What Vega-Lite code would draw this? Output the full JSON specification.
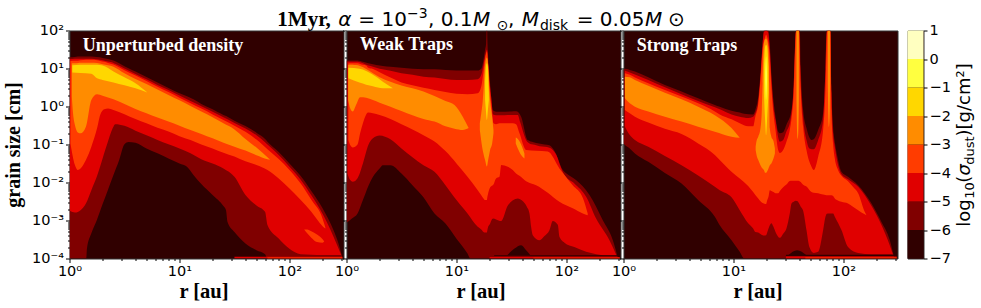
{"$schema":"https://vega.github.io/schema/vega-lite/v6.json","autosize":{"type":"pad"},"padding":{"left":2.5,"top":5.5,"right":0,"bottom":0},"background":"white","spacing":8,
"config":{"view":{"stroke":"#333","strokeWidth":1,"fill":"#300000"},"axis":{"grid":false,"domain":false,"labelFont":"DejaVu Sans","labelFontSize":14.5,"labelColor":"black","tickColor":"black","labelOverlap":false,"labelBound":false,"labelFlush":false,"titleFont":"Liberation Serif","titleFontWeight":"bold","titleColor":"black"}},
"datasets":{
"one":[{"item":"label"}],
"p1":[
{"band":"a6","level":"-6","r":1,"hi":19.8,"lo":0.0001},{"band":"a6","level":"-6","r":1.12,"hi":20.2,"lo":0.0001},{"band":"a6","level":"-6","r":1.26,"hi":20.6,"lo":0.0001},{"band":"a6","level":"-6","r":1.42,"hi":20.6,"lo":0.0001},{"band":"a6","level":"-6","r":1.44,"hi":20.6,"lo":0.00018},{"band":"a6","level":"-6","r":1.58,"hi":20.6,"lo":0.00046},{"band":"a6","level":"-6","r":1.77,"hi":20,"lo":0.00102},{"band":"a6","level":"-6","r":2,"hi":19,"lo":0.0027},{"band":"a6","level":"-6","r":2.23,"hi":17.7,"lo":0.0063},{"band":"a6","level":"-6","r":2.51,"hi":16.2,"lo":0.0158},{"band":"a6","level":"-6","r":2.83,"hi":13.8,"lo":0.039},{"band":"a6","level":"-6","r":3.16,"hi":11.5,"lo":0.102},{"band":"a6","level":"-6","r":3.44,"hi":10.2,"lo":0.117},{"band":"a6","level":"-6","r":3.98,"hi":8.3,"lo":0.112},{"band":"a6","level":"-6","r":5.01,"hi":6,"lo":0.079},{"band":"a6","level":"-6","r":6.31,"hi":4.27,"lo":0.059},{"band":"a6","level":"-6","r":7.94,"hi":3.08,"lo":0.043},{"band":"a6","level":"-6","r":10,"hi":2.23,"lo":0.0316},{"band":"a6","level":"-6","r":11.7,"hi":1.85,"lo":0.026},{"band":"a6","level":"-6","r":13.4,"hi":1.55,"lo":0.0158},{"band":"a6","level":"-6","r":15.8,"hi":1.17,"lo":0.0091},{"band":"a6","level":"-6","r":20,"hi":0.843,"lo":0.0047},{"band":"a6","level":"-6","r":25.1,"hi":0.598,"lo":0.0024},{"band":"a6","level":"-6","r":26.5,"hi":0.56,"lo":0.00186},{"band":"a6","level":"-6","r":27.3,"hi":0.54,"lo":0.00093},{"band":"a6","level":"-6","r":31.6,"hi":0.424,"lo":0.0005},{"band":"a6","level":"-6","r":39.8,"hi":0.307,"lo":0.00025},{"band":"a6","level":"-6","r":50.1,"hi":0.205,"lo":0.000166},{"band":"a6","level":"-6","r":60,"hi":0.14,"lo":0.000129},{"band":"a6","level":"-6","r":63.1,"hi":0.119,"lo":0.0001},{"band":"a6","level":"-6","r":79.4,"hi":0.0646,"lo":0.0001},{"band":"a6","level":"-6","r":100,"hi":0.0316,"lo":0.0001},{"band":"a6","level":"-6","r":126,"hi":0.015,"lo":0.0001},{"band":"a6","level":"-6","r":158,"hi":0.006,"lo":0.0001},{"band":"a6","level":"-6","r":200,"hi":0.0021,"lo":0.0001},{"band":"a6","level":"-6","r":251,"hi":0.00056,"lo":0.0001},{"band":"a6","level":"-6","r":279,"hi":0.00025,"lo":0.0001},{"band":"a6","level":"-6","r":303,"hi":0.000105,"lo":0.0001},
{"band":"a5","level":"-5","r":1.01,"hi":17.5,"lo":0.0018},{"band":"a5","level":"-5","r":1.12,"hi":18,"lo":0.00162},{"band":"a5","level":"-5","r":1.26,"hi":18,"lo":0.00186},{"band":"a5","level":"-5","r":1.41,"hi":18,"lo":0.0028},{"band":"a5","level":"-5","r":1.58,"hi":18,"lo":0.0063},{"band":"a5","level":"-5","r":1.77,"hi":17.5,"lo":0.0141},{"band":"a5","level":"-5","r":2,"hi":16.5,"lo":0.043},{"band":"a5","level":"-5","r":2.23,"hi":15.2,"lo":0.117},{"band":"a5","level":"-5","r":2.51,"hi":14,"lo":0.295},{"band":"a5","level":"-5","r":2.6,"hi":13.3,"lo":0.34},{"band":"a5","level":"-5","r":3.16,"hi":10,"lo":0.31},{"band":"a5","level":"-5","r":3.98,"hi":7.2,"lo":0.231},{"band":"a5","level":"-5","r":5.01,"hi":5.2,"lo":0.174},{"band":"a5","level":"-5","r":6.31,"hi":3.7,"lo":0.132},{"band":"a5","level":"-5","r":7.94,"hi":2.7,"lo":0.101},{"band":"a5","level":"-5","r":10,"hi":1.95,"lo":0.079},{"band":"a5","level":"-5","r":12.6,"hi":1.4,"lo":0.059},{"band":"a5","level":"-5","r":15.8,"hi":1.02,"lo":0.041},{"band":"a5","level":"-5","r":20,"hi":0.73,"lo":0.0316},{"band":"a5","level":"-5","r":25.1,"hi":0.52,"lo":0.0234},{"band":"a5","level":"-5","r":31.6,"hi":0.37,"lo":0.0141},{"band":"a5","level":"-5","r":39.8,"hi":0.265,"lo":0.0047},{"band":"a5","level":"-5","r":50.1,"hi":0.175,"lo":0.0025},{"band":"a5","level":"-5","r":60,"hi":0.115,"lo":0.0017},{"band":"a5","level":"-5","r":63.1,"hi":0.1,"lo":0.00076},{"band":"a5","level":"-5","r":79.4,"hi":0.054,"lo":0.00034},{"band":"a5","level":"-5","r":100,"hi":0.026,"lo":0.00018},{"band":"a5","level":"-5","r":126,"hi":0.012,"lo":0.000129},{"band":"a5","level":"-5","r":158,"hi":0.0046,"lo":0.000125},{"band":"a5","level":"-5","r":200,"hi":0.0015,"lo":0.000123},{"band":"a5","level":"-5","r":251,"hi":0.00038,"lo":0.000123},{"band":"a5","level":"-5","r":295,"hi":0.000125,"lo":0.000123},
{"band":"a4","level":"-4","r":1.02,"hi":15.8,"lo":0.107},{"band":"a4","level":"-4","r":1.12,"hi":16,"lo":0.029},{"band":"a4","level":"-4","r":1.19,"hi":16,"lo":0.0214},{"band":"a4","level":"-4","r":1.26,"hi":16.4,"lo":0.0234},{"band":"a4","level":"-4","r":1.41,"hi":16.9,"lo":0.039},{"band":"a4","level":"-4","r":1.58,"hi":16.9,"lo":0.087},{"band":"a4","level":"-4","r":1.78,"hi":16.5,"lo":0.266},{"band":"a4","level":"-4","r":1.9,"hi":15.8,"lo":0.6},{"band":"a4","level":"-4","r":2.07,"hi":15,"lo":0.85},{"band":"a4","level":"-4","r":2.24,"hi":14,"lo":0.89},{"band":"a4","level":"-4","r":2.51,"hi":12.7,"lo":0.81},{"band":"a4","level":"-4","r":3.16,"hi":9,"lo":0.63},{"band":"a4","level":"-4","r":3.98,"hi":6.5,"lo":0.47},{"band":"a4","level":"-4","r":5.01,"hi":4.7,"lo":0.36},{"band":"a4","level":"-4","r":6.31,"hi":3.3,"lo":0.275},{"band":"a4","level":"-4","r":7.94,"hi":2.4,"lo":0.22},{"band":"a4","level":"-4","r":10,"hi":1.7,"lo":0.166},{"band":"a4","level":"-4","r":12.6,"hi":1.22,"lo":0.132},{"band":"a4","level":"-4","r":15.8,"hi":0.88,"lo":0.1},{"band":"a4","level":"-4","r":20,"hi":0.62,"lo":0.079},{"band":"a4","level":"-4","r":25.1,"hi":0.44,"lo":0.061},{"band":"a4","level":"-4","r":31.6,"hi":0.31,"lo":0.048},{"band":"a4","level":"-4","r":39.8,"hi":0.215,"lo":0.036},{"band":"a4","level":"-4","r":50.1,"hi":0.135,"lo":0.029},{"band":"a4","level":"-4","r":63.1,"hi":0.075,"lo":0.0214},{"band":"a4","level":"-4","r":79.4,"hi":0.042,"lo":0.0129},{"band":"a4","level":"-4","r":100,"hi":0.0214,"lo":0.0069},{"band":"a4","level":"-4","r":126,"hi":0.0095,"lo":0.0035},{"band":"a4","level":"-4","r":158,"hi":0.0035,"lo":0.0017},{"band":"a4","level":"-4","r":200,"hi":0.00112,"lo":0.00071},{"band":"a4","level":"-4","r":212,"hi":0.00065,"lo":0.00062},
{"band":"b4","level":"-4","r":136,"hi":0.00058,"lo":0.00058},{"band":"b4","level":"-4","r":145,"hi":0.00058,"lo":0.00046},{"band":"b4","level":"-4","r":158,"hi":0.00052,"lo":0.00035},{"band":"b4","level":"-4","r":178,"hi":0.00043,"lo":0.00027},{"band":"b4","level":"-4","r":200,"hi":0.00032,"lo":0.00026},{"band":"b4","level":"-4","r":207,"hi":0.00028,"lo":0.00028},
{"band":"a3","level":"-3","r":1.05,"hi":13.5,"lo":1.82},{"band":"a3","level":"-3","r":1.07,"hi":13.8,"lo":0.81},{"band":"a3","level":"-3","r":1.12,"hi":13.8,"lo":0.326},{"band":"a3","level":"-3","r":1.2,"hi":14,"lo":0.204},{"band":"a3","level":"-3","r":1.26,"hi":14.2,"lo":0.197},{"band":"a3","level":"-3","r":1.41,"hi":14.2,"lo":0.295},{"band":"a3","level":"-3","r":1.58,"hi":14.2,"lo":1.49},{"band":"a3","level":"-3","r":1.78,"hi":14,"lo":2.09},{"band":"a3","level":"-3","r":2,"hi":13,"lo":1.93},{"band":"a3","level":"-3","r":2.51,"hi":11.2,"lo":1.55},{"band":"a3","level":"-3","r":3.16,"hi":7.5,"lo":1.17},{"band":"a3","level":"-3","r":3.98,"hi":5.3,"lo":0.86},{"band":"a3","level":"-3","r":5.01,"hi":3.9,"lo":0.66},{"band":"a3","level":"-3","r":6.31,"hi":2.8,"lo":0.51},{"band":"a3","level":"-3","r":7.94,"hi":2,"lo":0.4},{"band":"a3","level":"-3","r":10,"hi":1.45,"lo":0.31},{"band":"a3","level":"-3","r":12.6,"hi":1.03,"lo":0.24},{"band":"a3","level":"-3","r":15.8,"hi":0.74,"lo":0.19},{"band":"a3","level":"-3","r":20,"hi":0.52,"lo":0.145},{"band":"a3","level":"-3","r":25.1,"hi":0.36,"lo":0.112},{"band":"a3","level":"-3","r":31.6,"hi":0.25,"lo":0.087},{"band":"a3","level":"-3","r":39.8,"hi":0.14,"lo":0.069},{"band":"a3","level":"-3","r":50.1,"hi":0.083,"lo":0.052},{"band":"a3","level":"-3","r":63.1,"hi":0.046,"lo":0.041},{"band":"a3","level":"-3","r":66.7,"hi":0.04,"lo":0.04},
{"band":"a2","level":"-2","r":1.06,"hi":12.2,"lo":7.8},{"band":"a2","level":"-2","r":1.26,"hi":12.6,"lo":7.6},{"band":"a2","level":"-2","r":1.58,"hi":12.6,"lo":7.3},{"band":"a2","level":"-2","r":1.78,"hi":12.6,"lo":5.5},{"band":"a2","level":"-2","r":2,"hi":12,"lo":5},{"band":"a2","level":"-2","r":2.51,"hi":8.4,"lo":4.3},{"band":"a2","level":"-2","r":3.16,"hi":5.9,"lo":3.6},{"band":"a2","level":"-2","r":3.98,"hi":4.1,"lo":3},{"band":"a2","level":"-2","r":5.1,"hi":2.32,"lo":2.32},
{"band":"s5","level":"-5","r":31.6,"hi":0.000112,"lo":0.0001},{"band":"s5","level":"-5","r":303,"hi":0.000112,"lo":0.0001},
{"band":"s4","level":"-4","r":63.1,"hi":0.000106,"lo":0.0001},{"band":"s4","level":"-4","r":303,"hi":0.000106,"lo":0.0001}
],
"p2":[
{"band":"a6","level":"-6","r":1,"hi":16,"lo":0.00087},{"band":"a6","level":"-6","r":1.12,"hi":16.3,"lo":0.00113},{"band":"a6","level":"-6","r":1.26,"hi":16.3,"lo":0.00153},{"band":"a6","level":"-6","r":1.41,"hi":15,"lo":0.00344},{"band":"a6","level":"-6","r":1.58,"hi":13.8,"lo":0.0081},{"band":"a6","level":"-6","r":1.74,"hi":13,"lo":0.0142},{"band":"a6","level":"-6","r":2,"hi":12,"lo":0.0235},{"band":"a6","level":"-6","r":2.14,"hi":11.7,"lo":0.0285},{"band":"a6","level":"-6","r":2.51,"hi":11.2,"lo":0.0285},{"band":"a6","level":"-6","r":3.16,"hi":10.4,"lo":0.0173},{"band":"a6","level":"-6","r":3.98,"hi":9.8,"lo":0.0085},{"band":"a6","level":"-6","r":5.01,"hi":9.6,"lo":0.0041},{"band":"a6","level":"-6","r":6.31,"hi":9.5,"lo":0.00153},{"band":"a6","level":"-6","r":7.94,"hi":9.2,"lo":0.00083},{"band":"a6","level":"-6","r":10,"hi":8.9,"lo":0.00033},{"band":"a6","level":"-6","r":12.6,"hi":8.8,"lo":0.000135},{"band":"a6","level":"-6","r":13.4,"hi":8.8,"lo":0.0001},{"band":"a6","level":"-6","r":15.6,"hi":8.8,"lo":0.0001},{"band":"a6","level":"-6","r":16.8,"hi":9.8,"lo":0.0001},{"band":"a6","level":"-6","r":17.6,"hi":16.9,"lo":0.0001},{"band":"a6","level":"-6","r":18.2,"hi":31,"lo":0.0001},{"band":"a6","level":"-6","r":18.6,"hi":46,"lo":0.0001},{"band":"a6","level":"-6","r":18.8,"hi":100,"lo":0.0001},{"band":"a6","level":"-6","r":19,"hi":100,"lo":0.0001},{"band":"a6","level":"-6","r":19.15,"hi":46,"lo":0.0001},{"band":"a6","level":"-6","r":19.4,"hi":20.6,"lo":0.0001},{"band":"a6","level":"-6","r":19.7,"hi":11.2,"lo":0.0001},{"band":"a6","level":"-6","r":20.2,"hi":4.1,"lo":0.0001},{"band":"a6","level":"-6","r":20.8,"hi":1.49,"lo":0.0001},{"band":"a6","level":"-6","r":21.4,"hi":0.81,"lo":0.0001},{"band":"a6","level":"-6","r":22.9,"hi":0.73,"lo":0.0001},{"band":"a6","level":"-6","r":25.1,"hi":0.73,"lo":0.0001},{"band":"a6","level":"-6","r":31.6,"hi":0.74,"lo":0.0001},{"band":"a6","level":"-6","r":34.8,"hi":0.75,"lo":0.0001},{"band":"a6","level":"-6","r":38.7,"hi":0.54,"lo":0.0001},{"band":"a6","level":"-6","r":44.5,"hi":0.131,"lo":0.0001},{"band":"a6","level":"-6","r":50.1,"hi":0.115,"lo":0.0001},{"band":"a6","level":"-6","r":63.1,"hi":0.1,"lo":0.0001},{"band":"a6","level":"-6","r":70,"hi":0.095,"lo":0.0001},{"band":"a6","level":"-6","r":79.4,"hi":0.0607,"lo":0.0001},{"band":"a6","level":"-6","r":92.6,"hi":0.0212,"lo":0.0001},{"band":"a6","level":"-6","r":100,"hi":0.0173,"lo":0.0001},{"band":"a6","level":"-6","r":122,"hi":0.0116,"lo":0.0001},{"band":"a6","level":"-6","r":162,"hi":0.0047,"lo":0.0001},{"band":"a6","level":"-6","r":214,"hi":0.00102,"lo":0.0001},{"band":"a6","level":"-6","r":264,"hi":0.000303,"lo":0.0001},{"band":"a6","level":"-6","r":293,"hi":0.000105,"lo":0.0001},
{"band":"i7","level":"-7","r":29.1,"hi":0.000124,"lo":0.000122},{"band":"i7","level":"-7","r":33.7,"hi":0.000183,"lo":0.000122},{"band":"i7","level":"-7","r":38.7,"hi":0.000224,"lo":0.000122},{"band":"i7","level":"-7","r":43,"hi":0.000165,"lo":0.000122},{"band":"i7","level":"-7","r":46.8,"hi":0.000124,"lo":0.000122},
{"band":"a5","level":"-5","r":1.02,"hi":15,"lo":0.0173},{"band":"a5","level":"-5","r":1.08,"hi":15,"lo":0.0116},{"band":"a5","level":"-5","r":1.14,"hi":15,"lo":0.0105},{"band":"a5","level":"-5","r":1.26,"hi":15,"lo":0.013},{"band":"a5","level":"-5","r":1.41,"hi":13.8,"lo":0.0318},{"band":"a5","level":"-5","r":1.58,"hi":12,"lo":0.097},{"band":"a5","level":"-5","r":1.74,"hi":11.2,"lo":0.146},{"band":"a5","level":"-5","r":2,"hi":9.8,"lo":0.173},{"band":"a5","level":"-5","r":2.51,"hi":8.7,"lo":0.137},{"band":"a5","level":"-5","r":3.16,"hi":7.5,"lo":0.079},{"band":"a5","level":"-5","r":3.98,"hi":6.8,"lo":0.0465},{"band":"a5","level":"-5","r":5.01,"hi":6.1,"lo":0.0285},{"band":"a5","level":"-5","r":6.31,"hi":5.8,"lo":0.0192},{"band":"a5","level":"-5","r":7.94,"hi":5.3,"lo":0.0085},{"band":"a5","level":"-5","r":10,"hi":5,"lo":0.00344},{"band":"a5","level":"-5","r":12.6,"hi":5,"lo":0.00153},{"band":"a5","level":"-5","r":15.6,"hi":5.2,"lo":0.00068},{"band":"a5","level":"-5","r":16.8,"hi":6.8,"lo":0.00058},{"band":"a5","level":"-5","r":17.6,"hi":12.6,"lo":0.0005},{"band":"a5","level":"-5","r":18.2,"hi":20.6,"lo":0.00048},{"band":"a5","level":"-5","r":18.6,"hi":28,"lo":0.00048},{"band":"a5","level":"-5","r":18.9,"hi":31,"lo":0.00048},{"band":"a5","level":"-5","r":19.1,"hi":28,"lo":0.00056},{"band":"a5","level":"-5","r":19.4,"hi":13.8,"lo":0.00068},{"band":"a5","level":"-5","r":20,"hi":4.5,"lo":0.00078},{"band":"a5","level":"-5","r":20.8,"hi":1.49,"lo":0.00102},{"band":"a5","level":"-5","r":21.5,"hi":0.62,"lo":0.00113},{"band":"a5","level":"-5","r":22.9,"hi":0.59,"lo":0.00107},{"band":"a5","level":"-5","r":25.5,"hi":0.59,"lo":0.00097},{"band":"a5","level":"-5","r":29.3,"hi":0.6,"lo":0.0025},{"band":"a5","level":"-5","r":36.1,"hi":0.6,"lo":0.0038},{"band":"a5","level":"-5","r":37.9,"hi":0.39,"lo":0.0036},{"band":"a5","level":"-5","r":43.6,"hi":0.122,"lo":0.00229},{"band":"a5","level":"-5","r":46.1,"hi":0.107,"lo":0.00153},{"band":"a5","level":"-5","r":47.7,"hi":0.101,"lo":0.00068},{"band":"a5","level":"-5","r":49.4,"hi":0.1,"lo":0.00041},{"band":"a5","level":"-5","r":56.9,"hi":0.09,"lo":0.000303},{"band":"a5","level":"-5","r":63.1,"hi":0.0875,"lo":0.00039},{"band":"a5","level":"-5","r":70,"hi":0.082,"lo":0.000556},{"band":"a5","level":"-5","r":75.1,"hi":0.0714,"lo":0.00097},{"band":"a5","level":"-5","r":83.4,"hi":0.043,"lo":0.00077},{"band":"a5","level":"-5","r":86.3,"hi":0.0318,"lo":0.000371},{"band":"a5","level":"-5","r":95.9,"hi":0.0157,"lo":0.00026},{"band":"a5","level":"-5","r":118,"hi":0.00944,"lo":0.0002},{"band":"a5","level":"-5","r":151,"hi":0.00421,"lo":0.00015},{"band":"a5","level":"-5","r":186,"hi":0.00113,"lo":0.00013},{"band":"a5","level":"-5","r":246,"hi":0.000303,"lo":0.00012},{"band":"a5","level":"-5","r":282,"hi":0.00013,"lo":0.00012},
{"band":"a4","level":"-4","r":1.04,"hi":13.8,"lo":0.131},{"band":"a4","level":"-4","r":1.08,"hi":13.8,"lo":0.097},{"band":"a4","level":"-4","r":1.14,"hi":13.8,"lo":0.084},{"band":"a4","level":"-4","r":1.26,"hi":13.8,"lo":0.1},{"band":"a4","level":"-4","r":1.33,"hi":13.2,"lo":0.197},{"band":"a4","level":"-4","r":1.41,"hi":12.6,"lo":0.36},{"band":"a4","level":"-4","r":1.51,"hi":12,"lo":0.62},{"band":"a4","level":"-4","r":1.58,"hi":10.4,"lo":0.69},{"band":"a4","level":"-4","r":1.74,"hi":9.7,"lo":0.66},{"band":"a4","level":"-4","r":2,"hi":8,"lo":0.6},{"band":"a4","level":"-4","r":2.51,"hi":5.8,"lo":0.47},{"band":"a4","level":"-4","r":3.16,"hi":4.3,"lo":0.34},{"band":"a4","level":"-4","r":3.98,"hi":3.6,"lo":0.25},{"band":"a4","level":"-4","r":5.01,"hi":3.1,"lo":0.175},{"band":"a4","level":"-4","r":6.31,"hi":2.73,"lo":0.12},{"band":"a4","level":"-4","r":7.94,"hi":2.4,"lo":0.067},{"band":"a4","level":"-4","r":10,"hi":2.15,"lo":0.0318},{"band":"a4","level":"-4","r":12.6,"hi":2.1,"lo":0.0142},{"band":"a4","level":"-4","r":15.6,"hi":2.23,"lo":0.0063},{"band":"a4","level":"-4","r":16.8,"hi":3.34,"lo":0.00465},{"band":"a4","level":"-4","r":17.6,"hi":8.3,"lo":0.0038},{"band":"a4","level":"-4","r":18.2,"hi":18.6,"lo":0.00344},{"band":"a4","level":"-4","r":18.6,"hi":25,"lo":0.00344},{"band":"a4","level":"-4","r":18.9,"hi":28,"lo":0.00344},{"band":"a4","level":"-4","r":19.1,"hi":23,"lo":0.00421},{"band":"a4","level":"-4","r":19.4,"hi":11.2,"lo":0.00515},{"band":"a4","level":"-4","r":20,"hi":3.34,"lo":0.007},{"band":"a4","level":"-4","r":20.8,"hi":0.99,"lo":0.0081},{"band":"a4","level":"-4","r":21.7,"hi":0.36,"lo":0.0089},{"band":"a4","level":"-4","r":22.9,"hi":0.34,"lo":0.0128},{"band":"a4","level":"-4","r":24.6,"hi":0.36,"lo":0.0142},{"band":"a4","level":"-4","r":25.5,"hi":0.36,"lo":0.0287},{"band":"a4","level":"-4","r":29.3,"hi":0.36,"lo":0.026},{"band":"a4","level":"-4","r":32.5,"hi":0.36,"lo":0.0212},{"band":"a4","level":"-4","r":34.8,"hi":0.34,"lo":0.0173},{"band":"a4","level":"-4","r":37.4,"hi":0.197,"lo":0.015},{"band":"a4","level":"-4","r":43,"hi":0.0714,"lo":0.0108},{"band":"a4","level":"-4","r":53,"hi":0.068,"lo":0.0085},{"band":"a4","level":"-4","r":67.6,"hi":0.065,"lo":0.0054},{"band":"a4","level":"-4","r":86.3,"hi":0.0235,"lo":0.0031},{"band":"a4","level":"-4","r":114,"hi":0.0085,"lo":0.0021},{"band":"a4","level":"-4","r":141,"hi":0.0039,"lo":0.00153},{"band":"a4","level":"-4","r":156,"hi":0.00153,"lo":0.00138},
{"band":"a3","level":"-3","r":1.035,"hi":12.6,"lo":1.49},{"band":"a3","level":"-3","r":1.08,"hi":12.6,"lo":0.9},{"band":"a3","level":"-3","r":1.14,"hi":12.6,"lo":0.74},{"band":"a3","level":"-3","r":1.22,"hi":12.3,"lo":1.09},{"band":"a3","level":"-3","r":1.33,"hi":11.7,"lo":1.75},{"band":"a3","level":"-3","r":1.51,"hi":9.7,"lo":1.7},{"band":"a3","level":"-3","r":1.74,"hi":7.5,"lo":1.49},{"band":"a3","level":"-3","r":2,"hi":5.9,"lo":1.26},{"band":"a3","level":"-3","r":2.51,"hi":4.5,"lo":0.99},{"band":"a3","level":"-3","r":3.16,"hi":3.55,"lo":0.76},{"band":"a3","level":"-3","r":3.98,"hi":3,"lo":0.59},{"band":"a3","level":"-3","r":5.01,"hi":2.5,"lo":0.47},{"band":"a3","level":"-3","r":6.31,"hi":1.9,"lo":0.4},{"band":"a3","level":"-3","r":7.94,"hi":1.4,"lo":0.3},{"band":"a3","level":"-3","r":9.6,"hi":1.1,"lo":0.26},{"band":"a3","level":"-3","r":11.4,"hi":0.54,"lo":0.24},{"band":"a3","level":"-3","r":12.9,"hi":0.27,"lo":0.27},
{"band":"b3","level":"-3","r":16.3,"hi":0.36,"lo":0.24},{"band":"b3","level":"-3","r":16.8,"hi":0.66,"lo":0.124},{"band":"b3","level":"-3","r":17.3,"hi":1.33,"lo":0.0714},{"band":"b3","level":"-3","r":17.7,"hi":3.34,"lo":0.053},{"band":"b3","level":"-3","r":18.2,"hi":12.6,"lo":0.0389},{"band":"b3","level":"-3","r":18.9,"hi":19.6,"lo":0.0262},{"band":"b3","level":"-3","r":19.4,"hi":12.6,"lo":0.0389},{"band":"b3","level":"-3","r":19.8,"hi":3.34,"lo":0.053},{"band":"b3","level":"-3","r":20.2,"hi":1.49,"lo":0.0714},{"band":"b3","level":"-3","r":21.1,"hi":0.54,"lo":0.107},{"band":"b3","level":"-3","r":21.7,"hi":0.24,"lo":0.197},
{"band":"c3","level":"-3","r":34.6,"hi":0.153,"lo":0.107},{"band":"c3","level":"-3","r":36.1,"hi":0.14,"lo":0.079},{"band":"c3","level":"-3","r":38.7,"hi":0.1,"lo":0.053},{"band":"c3","level":"-3","r":41.5,"hi":0.0583,"lo":0.043},
{"band":"a2","level":"-2","r":1.04,"hi":10.4,"lo":5.5},{"band":"a2","level":"-2","r":1.31,"hi":9.8,"lo":4.25},{"band":"a2","level":"-2","r":1.51,"hi":8.6,"lo":3.75},{"band":"a2","level":"-2","r":1.74,"hi":6.8,"lo":3.4},{"band":"a2","level":"-2","r":2.14,"hi":4.5,"lo":3},{"band":"a2","level":"-2","r":2.64,"hi":3,"lo":3},
{"band":"b2","level":"-2","r":18.2,"hi":4.1,"lo":1.49},{"band":"b2","level":"-2","r":18.5,"hi":11.2,"lo":0.81},{"band":"b2","level":"-2","r":18.9,"hi":13.8,"lo":0.44},{"band":"b2","level":"-2","r":19.3,"hi":11.2,"lo":0.81},{"band":"b2","level":"-2","r":19.7,"hi":2.23,"lo":1.49},
{"band":"s7","level":"-7","r":22,"hi":0.000122,"lo":0.000116},{"band":"s7","level":"-7","r":305,"hi":0.000122,"lo":0.000116},
{"band":"s5","level":"-5","r":20,"hi":0.00011,"lo":0.0001},{"band":"s5","level":"-5","r":305,"hi":0.00011,"lo":0.0001},
{"band":"s4","level":"-4","r":50,"hi":0.000105,"lo":0.0001},{"band":"s4","level":"-4","r":305,"hi":0.000105,"lo":0.0001}
],
"p3":[
{"band":"a6","level":"-6","r":1,"hi":9.2,"lo":0.107},{"band":"a6","level":"-6","r":1.03,"hi":9.8,"lo":0.097},{"band":"a6","level":"-6","r":1.14,"hi":9.2,"lo":0.079},{"band":"a6","level":"-6","r":1.27,"hi":8.3,"lo":0.0583},{"band":"a6","level":"-6","r":1.68,"hi":5.9,"lo":0.035},{"band":"a6","level":"-6","r":2.38,"hi":3.7,"lo":0.0178},{"band":"a6","level":"-6","r":3.37,"hi":2.5,"lo":0.00944},{"band":"a6","level":"-6","r":4.77,"hi":1.65,"lo":0.00344},{"band":"a6","level":"-6","r":6.77,"hi":1.1,"lo":0.00125},{"band":"a6","level":"-6","r":7.5,"hi":0.99,"lo":0.00075},{"band":"a6","level":"-6","r":9.6,"hi":0.77,"lo":0.000303},{"band":"a6","level":"-6","r":11.4,"hi":0.69,"lo":0.00015},{"band":"a6","level":"-6","r":12.5,"hi":0.64,"lo":0.0001},{"band":"a6","level":"-6","r":15.1,"hi":0.62,"lo":0.0001},{"band":"a6","level":"-6","r":15.8,"hi":0.81,"lo":0.0001},{"band":"a6","level":"-6","r":16.8,"hi":1.82,"lo":0.0001},{"band":"a6","level":"-6","r":17.6,"hi":7.5,"lo":0.0001},{"band":"a6","level":"-6","r":18.4,"hi":46,"lo":0.0001},{"band":"a6","level":"-6","r":18.9,"hi":100,"lo":0.0001},{"band":"a6","level":"-6","r":20.8,"hi":100,"lo":0.0001},{"band":"a6","level":"-6","r":21.4,"hi":42,"lo":0.0001},{"band":"a6","level":"-6","r":22.1,"hi":7.5,"lo":0.0001},{"band":"a6","level":"-6","r":23.1,"hi":1.49,"lo":0.0001},{"band":"a6","level":"-6","r":24.1,"hi":0.54,"lo":0.0001},{"band":"a6","level":"-6","r":25.5,"hi":0.22,"lo":0.0001},{"band":"a6","level":"-6","r":26.4,"hi":0.197,"lo":0.0001},{"band":"a6","level":"-6","r":28.3,"hi":0.21,"lo":0.0001},{"band":"a6","level":"-6","r":30.3,"hi":0.33,"lo":0.0001},{"band":"a6","level":"-6","r":33.7,"hi":0.81,"lo":0.0001},{"band":"a6","level":"-6","r":35.3,"hi":4.1,"lo":0.0001},{"band":"a6","level":"-6","r":36.4,"hi":46,"lo":0.0001},{"band":"a6","level":"-6","r":37,"hi":100,"lo":0.0001},{"band":"a6","level":"-6","r":40.1,"hi":100,"lo":0.0001},{"band":"a6","level":"-6","r":40.9,"hi":11.2,"lo":0.0001},{"band":"a6","level":"-6","r":43,"hi":0.81,"lo":0.0001},{"band":"a6","level":"-6","r":46.1,"hi":0.27,"lo":0.0001},{"band":"a6","level":"-6","r":51.2,"hi":0.131,"lo":0.0001},{"band":"a6","level":"-6","r":53.7,"hi":0.137,"lo":0.0001},{"band":"a6","level":"-6","r":58.9,"hi":0.24,"lo":0.0001},{"band":"a6","level":"-6","r":65.3,"hi":0.66,"lo":0.0001},{"band":"a6","level":"-6","r":68.6,"hi":11.2,"lo":0.0001},{"band":"a6","level":"-6","r":70,"hi":100,"lo":0.0001},{"band":"a6","level":"-6","r":76.2,"hi":100,"lo":0.0001},{"band":"a6","level":"-6","r":77.8,"hi":3.34,"lo":0.0001},{"band":"a6","level":"-6","r":80.5,"hi":0.294,"lo":0.0001},{"band":"a6","level":"-6","r":83.4,"hi":0.118,"lo":0.0001},{"band":"a6","level":"-6","r":88.1,"hi":0.0477,"lo":0.0001},{"band":"a6","level":"-6","r":95.9,"hi":0.0192,"lo":0.0001},{"band":"a6","level":"-6","r":110,"hi":0.0142,"lo":0.0001},{"band":"a6","level":"-6","r":136,"hi":0.0085,"lo":0.0001},{"band":"a6","level":"-6","r":180,"hi":0.00281,"lo":0.0001},{"band":"a6","level":"-6","r":221,"hi":0.00093,"lo":0.0001},{"band":"a6","level":"-6","r":264,"hi":0.000303,"lo":0.0001},{"band":"a6","level":"-6","r":289,"hi":0.000105,"lo":0.0001},
{"band":"i7","level":"-7","r":31.4,"hi":0.000122,"lo":0.00012},{"band":"i7","level":"-7","r":37.9,"hi":0.000165,"lo":0.00012},{"band":"i7","level":"-7","r":46.1,"hi":0.000122,"lo":0.00012},
{"band":"a5","level":"-5","r":1.03,"hi":8.7,"lo":0.294},{"band":"a5","level":"-5","r":1.14,"hi":7.9,"lo":0.177},{"band":"a5","level":"-5","r":1.27,"hi":7,"lo":0.131},{"band":"a5","level":"-5","r":1.68,"hi":5,"lo":0.0875},{"band":"a5","level":"-5","r":2.38,"hi":3.2,"lo":0.05},{"band":"a5","level":"-5","r":3.37,"hi":2.1,"lo":0.0285},{"band":"a5","level":"-5","r":4.77,"hi":1.4,"lo":0.0152},{"band":"a5","level":"-5","r":6.77,"hi":0.95,"lo":0.0077},{"band":"a5","level":"-5","r":7.5,"hi":0.85,"lo":0.0063},{"band":"a5","level":"-5","r":9.6,"hi":0.62,"lo":0.0041},{"band":"a5","level":"-5","r":11.4,"hi":0.54,"lo":0.00187},{"band":"a5","level":"-5","r":13.6,"hi":0.5,"lo":0.00085},{"band":"a5","level":"-5","r":15.1,"hi":0.54,"lo":0.00062},{"band":"a5","level":"-5","r":15.8,"hi":0.66,"lo":0.0005},{"band":"a5","level":"-5","r":16.8,"hi":1.33,"lo":0.00048},{"band":"a5","level":"-5","r":17.6,"hi":6.1,"lo":0.00044},{"band":"a5","level":"-5","r":18.4,"hi":42,"lo":0.00041},{"band":"a5","level":"-5","r":18.9,"hi":90,"lo":0.0004},{"band":"a5","level":"-5","r":19.8,"hi":100,"lo":0.00041},{"band":"a5","level":"-5","r":20.6,"hi":90,"lo":0.00056},{"band":"a5","level":"-5","r":21.4,"hi":31,"lo":0.00075},{"band":"a5","level":"-5","r":22.1,"hi":5.5,"lo":0.00085},{"band":"a5","level":"-5","r":23.1,"hi":0.99,"lo":0.00068},{"band":"a5","level":"-5","r":24.1,"hi":0.44,"lo":0.0005},{"band":"a5","level":"-5","r":26.4,"hi":0.118,"lo":0.00035},{"band":"a5","level":"-5","r":28.3,"hi":0.131,"lo":0.00045},{"band":"a5","level":"-5","r":30.3,"hi":0.22,"lo":0.00062},{"band":"a5","level":"-5","r":32.5,"hi":0.36,"lo":0.00153},{"band":"a5","level":"-5","r":33.7,"hi":0.66,"lo":0.0028},{"band":"a5","level":"-5","r":35.3,"hi":3.34,"lo":0.0031},{"band":"a5","level":"-5","r":36.9,"hi":90,"lo":0.0033},{"band":"a5","level":"-5","r":38.3,"hi":100,"lo":0.0032},{"band":"a5","level":"-5","r":39.5,"hi":90,"lo":0.0028},{"band":"a5","level":"-5","r":40.9,"hi":4.1,"lo":0.0023},{"band":"a5","level":"-5","r":43,"hi":0.48,"lo":0.0018},{"band":"a5","level":"-5","r":46.1,"hi":0.131,"lo":0.00056},{"band":"a5","level":"-5","r":49,"hi":0.079,"lo":0.0002},{"band":"a5","level":"-5","r":53.7,"hi":0.075,"lo":0.00014},{"band":"a5","level":"-5","r":58.9,"hi":0.131,"lo":0.00015},{"band":"a5","level":"-5","r":65.3,"hi":0.44,"lo":0.000556},{"band":"a5","level":"-5","r":68.6,"hi":9.2,"lo":0.00125},{"band":"a5","level":"-5","r":70.6,"hi":90,"lo":0.0015},{"band":"a5","level":"-5","r":74,"hi":100,"lo":0.00153},{"band":"a5","level":"-5","r":76.2,"hi":90,"lo":0.00153},{"band":"a5","level":"-5","r":77.8,"hi":2.23,"lo":0.00153},{"band":"a5","level":"-5","r":80.5,"hi":0.197,"lo":0.00153},{"band":"a5","level":"-5","r":83.4,"hi":0.0875,"lo":0.00125},{"band":"a5","level":"-5","r":95.9,"hi":0.0165,"lo":0.00056},{"band":"a5","level":"-5","r":110,"hi":0.0122,"lo":0.0002},{"band":"a5","level":"-5","r":136,"hi":0.0077,"lo":0.00014},{"band":"a5","level":"-5","r":180,"hi":0.0024,"lo":0.00013},{"band":"a5","level":"-5","r":221,"hi":0.00077,"lo":0.00013},{"band":"a5","level":"-5","r":264,"hi":0.00022,"lo":0.00013},{"band":"a5","level":"-5","r":282,"hi":0.000128,"lo":0.000127},
{"band":"a4","level":"-4","r":1.03,"hi":7.5,"lo":0.81},{"band":"a4","level":"-4","r":1.14,"hi":6.8,"lo":0.66},{"band":"a4","level":"-4","r":1.27,"hi":5.8,"lo":0.54},{"band":"a4","level":"-4","r":1.68,"hi":4.1,"lo":0.38},{"band":"a4","level":"-4","r":2.38,"hi":2.73,"lo":0.26},{"band":"a4","level":"-4","r":3.37,"hi":1.82,"lo":0.19},{"band":"a4","level":"-4","r":4.77,"hi":1.21,"lo":0.107},{"band":"a4","level":"-4","r":6.77,"hi":0.74,"lo":0.053},{"band":"a4","level":"-4","r":7.5,"hi":0.62,"lo":0.0389},{"band":"a4","level":"-4","r":9.6,"hi":0.46,"lo":0.0192},{"band":"a4","level":"-4","r":11.4,"hi":0.36,"lo":0.0128},{"band":"a4","level":"-4","r":13.6,"hi":0.3,"lo":0.0081},{"band":"a4","level":"-4","r":15.1,"hi":0.3,"lo":0.0056},{"band":"a4","level":"-4","r":15.8,"hi":0.54,"lo":0.0047},{"band":"a4","level":"-4","r":16.8,"hi":1.17,"lo":0.0038},{"band":"a4","level":"-4","r":17.6,"hi":5,"lo":0.0032},{"band":"a4","level":"-4","r":18.4,"hi":31,"lo":0.0029},{"band":"a4","level":"-4","r":18.9,"hi":51,"lo":0.0028},{"band":"a4","level":"-4","r":19.4,"hi":67,"lo":0.0027},{"band":"a4","level":"-4","r":19.8,"hi":77,"lo":0.0027},{"band":"a4","level":"-4","r":20.2,"hi":67,"lo":0.0033},{"band":"a4","level":"-4","r":20.8,"hi":46,"lo":0.0042},{"band":"a4","level":"-4","r":21.4,"hi":18.6,"lo":0.0063},{"band":"a4","level":"-4","r":22.1,"hi":3.34,"lo":0.006},{"band":"a4","level":"-4","r":23.1,"hi":0.66,"lo":0.0056},{"band":"a4","level":"-4","r":24.1,"hi":0.24,"lo":0.0052},{"band":"a4","level":"-4","r":25.5,"hi":0.0714,"lo":0.0052},{"band":"a4","level":"-4","r":26.4,"hi":0.06,"lo":0.006},{"band":"a4","level":"-4","r":28.3,"hi":0.0714,"lo":0.0075},{"band":"a4","level":"-4","r":30.3,"hi":0.118,"lo":0.0088},{"band":"a4","level":"-4","r":32.5,"hi":0.24,"lo":0.011},{"band":"a4","level":"-4","r":33.7,"hi":0.48,"lo":0.0112},{"band":"a4","level":"-4","r":35.3,"hi":2.23,"lo":0.0112},{"band":"a4","level":"-4","r":37.1,"hi":95,"lo":0.0112},{"band":"a4","level":"-4","r":38.3,"hi":100,"lo":0.0112},{"band":"a4","level":"-4","r":39.5,"hi":95,"lo":0.011},{"band":"a4","level":"-4","r":40.9,"hi":2.73,"lo":0.0103},{"band":"a4","level":"-4","r":43,"hi":0.294,"lo":0.0087},{"band":"a4","level":"-4","r":46.1,"hi":0.0714,"lo":0.0078},{"band":"a4","level":"-4","r":51.2,"hi":0.026,"lo":0.0056},{"band":"a4","level":"-4","r":53.7,"hi":0.0212,"lo":0.0054},{"band":"a4","level":"-4","r":58.9,"hi":0.0477,"lo":0.0052},{"band":"a4","level":"-4","r":65.3,"hi":0.24,"lo":0.0048},{"band":"a4","level":"-4","r":68.6,"hi":2.73,"lo":0.0047},{"band":"a4","level":"-4","r":71.1,"hi":95,"lo":0.0046},{"band":"a4","level":"-4","r":76,"hi":95,"lo":0.0046},{"band":"a4","level":"-4","r":77.8,"hi":0.81,"lo":0.0046},{"band":"a4","level":"-4","r":80.5,"hi":0.107,"lo":0.0044},{"band":"a4","level":"-4","r":83.4,"hi":0.043,"lo":0.0038},{"band":"a4","level":"-4","r":88.1,"hi":0.0235,"lo":0.0034},{"band":"a4","level":"-4","r":95.9,"hi":0.015,"lo":0.0031},{"band":"a4","level":"-4","r":110,"hi":0.0108,"lo":0.0028},{"band":"a4","level":"-4","r":122,"hi":0.0077,"lo":0.0023},{"band":"a4","level":"-4","r":136,"hi":0.0052,"lo":0.00187},{"band":"a4","level":"-4","r":156,"hi":0.0017,"lo":0.00145},{"band":"a4","level":"-4","r":162,"hi":0.00138,"lo":0.00138},
{"band":"a3","level":"-3","r":1.03,"hi":6.1,"lo":1.65},{"band":"a3","level":"-3","r":1.14,"hi":5.9,"lo":1.21},{"band":"a3","level":"-3","r":1.27,"hi":5,"lo":0.99},{"band":"a3","level":"-3","r":1.68,"hi":3.5,"lo":0.74},{"band":"a3","level":"-3","r":2.38,"hi":2.3,"lo":0.54},{"band":"a3","level":"-3","r":3.37,"hi":1.56,"lo":0.4},{"band":"a3","level":"-3","r":4.77,"hi":0.99,"lo":0.294},{"band":"a3","level":"-3","r":6.77,"hi":0.59,"lo":0.218},{"band":"a3","level":"-3","r":9.6,"hi":0.27,"lo":0.161},{"band":"a3","level":"-3","r":11.4,"hi":0.15,"lo":0.15},
{"band":"b3","level":"-3","r":15.9,"hi":0.0875,"lo":0.0714},{"band":"b3","level":"-3","r":16.2,"hi":0.124,"lo":0.053},{"band":"b3","level":"-3","r":16.8,"hi":0.161,"lo":0.0389},{"band":"b3","level":"-3","r":17.6,"hi":0.267,"lo":0.0285},{"band":"b3","level":"-3","r":18.1,"hi":0.81,"lo":0.0246},{"band":"b3","level":"-3","r":18.4,"hi":4.1,"lo":0.0235},{"band":"b3","level":"-3","r":18.9,"hi":46,"lo":0.0212},{"band":"b3","level":"-3","r":19.4,"hi":59,"lo":0.018},{"band":"b3","level":"-3","r":19.8,"hi":62,"lo":0.018},{"band":"b3","level":"-3","r":20.2,"hi":55,"lo":0.0195},{"band":"b3","level":"-3","r":20.8,"hi":31,"lo":0.0235},{"band":"b3","level":"-3","r":21.1,"hi":4.1,"lo":0.026},{"band":"b3","level":"-3","r":21.4,"hi":0.267,"lo":0.0285},{"band":"b3","level":"-3","r":22.1,"hi":0.161,"lo":0.0318},{"band":"b3","level":"-3","r":23.1,"hi":0.124,"lo":0.043},{"band":"b3","level":"-3","r":23.8,"hi":0.079,"lo":0.0583},
{"band":"c3","level":"-3","r":37.4,"hi":100,"lo":1.49},{"band":"c3","level":"-3","r":37.9,"hi":100,"lo":0.197},{"band":"c3","level":"-3","r":38.3,"hi":100,"lo":0.14},{"band":"c3","level":"-3","r":38.8,"hi":100,"lo":0.197},{"band":"c3","level":"-3","r":39.3,"hi":100,"lo":1.49},
{"band":"d3","level":"-3","r":72,"hi":100,"lo":4.1},{"band":"d3","level":"-3","r":73,"hi":100,"lo":0.44},{"band":"d3","level":"-3","r":73.6,"hi":100,"lo":0.29},{"band":"d3","level":"-3","r":74.6,"hi":100,"lo":0.44},{"band":"d3","level":"-3","r":75.6,"hi":100,"lo":4.1},
{"band":"b2","level":"-2","r":18.9,"hi":11.2,"lo":2.23},{"band":"b2","level":"-2","r":19.4,"hi":38,"lo":0.44},{"band":"b2","level":"-2","r":19.8,"hi":42,"lo":0.176},{"band":"b2","level":"-2","r":20.2,"hi":38,"lo":0.44},{"band":"b2","level":"-2","r":20.8,"hi":11.2,"lo":2.23},
{"band":"b1","level":"-1","r":19.4,"hi":7.5,"lo":5},{"band":"b1","level":"-1","r":19.8,"hi":20.6,"lo":1.49},{"band":"b1","level":"-1","r":20.2,"hi":7.5,"lo":5},
{"band":"s7","level":"-7","r":30,"hi":0.000125,"lo":0.000117},{"band":"s7","level":"-7","r":305,"hi":0.000125,"lo":0.000117},
{"band":"s5","level":"-5","r":30,"hi":0.000113,"lo":0.0001},{"band":"s5","level":"-5","r":305,"hi":0.000113,"lo":0.0001},
{"band":"s4","level":"-4","r":45,"hi":0.000107,"lo":0.0001},{"band":"s4","level":"-4","r":305,"hi":0.000107,"lo":0.0001}
],
"cb":[{"level":"-7","from":-7,"to":-6},{"level":"-6","from":-6,"to":-5},{"level":"-5","from":-5,"to":-4},{"level":"-4","from":-4,"to":-3},{"level":"-3","from":-3,"to":-2},{"level":"-2","from":-2,"to":-1},{"level":"-1","from":-1,"to":0},{"level":"0","from":0,"to":1}]
},
"hconcat":[
{"bounds":"flush","spacing":3,"hconcat":[
{"width":274,"height":228,"data":{"name":"p1"},"resolve":{"axis":{"x":"independent","y":"independent"}},"layer":[
{"mark":{"type":"area","interpolate":"monotone","clip":true},"encoding":{
"x":{"field":"r","type":"quantitative","scale":{"type":"log","domain":[1,310],"nice":false},"axis":{"orient":"bottom","values":[1,10,100],"labelExpr":"'10' + ['⁰','¹','²'][round(log(datum.value)/LN10)]","tickSize":4,"labelFontSize":14.5,"labelOverlap":false,"title":"r [au]","titleFontSize":20.5,"titlePadding":3,"titleX":134}},
"y":{"field":"hi","type":"quantitative","scale":{"type":"log","domain":[0.0001,100],"nice":false},"axis":{"orient":"left","values":[0.0001,0.001,0.01,0.1,1,10,100],"labelOverlap":false,"labelExpr":"'10' + ['⁻⁴','⁻³','⁻²','⁻¹','⁰','¹','²'][round(log(datum.value)/LN10)+4]","tickSize":4,"title":"grain size [cm]","titleFontSize":20,"titlePadding":8}},
"y2":{"field":"lo"},
"color":{"field":"level","type":"nominal","scale":{"domain":["-7","-6","-5","-4","-3","-2","-1","0"],"range":["#300000","#800000","#e00000","#ff3c00","#ff8c00","#ffd700","#ffff40","#ffffc0"]},"legend":null},
"detail":{"field":"band"}}},
{"mark":{"type":"rule","opacity":0},"encoding":{
"x":{"field":"r","type":"quantitative","axis":{"orient":"bottom","values":[2,3,4,5,6,7,8,9,20,30,40,50,60,70,80,90,200,300],"labels":false,"tickSize":2,"title":null}},
"y":{"field":"hi","type":"quantitative","axis":{"orient":"left","values":[0.0002,0.0003,0.0004,0.0005,0.0006,0.0007,0.0008,0.0009,0.002,0.003,0.004,0.005,0.006,0.007,0.008,0.009,0.02,0.03,0.04,0.05,0.06,0.07,0.08,0.09,0.2,0.3,0.4,0.5,0.6,0.7,0.8,0.9,2,3,4,5,6,7,8,9,20,30,40,50,60,70,80,90],"labels":false,"tickSize":2,"title":null}}}},
{"data":{"name":"one"},"mark":{"type":"text","font":"Liberation Serif","fontWeight":"bold","fontSize":18,"color":"white","align":"left","baseline":"alphabetic"},"encoding":{"x":{"datum":1.32,"type":"quantitative","axis":null},"y":{"datum":29.3,"type":"quantitative","axis":null},"text":{"value":"Unperturbed density"}}}
]},
{"width":274,"height":228,"data":{"name":"p2"},"resolve":{"axis":{"x":"independent","y":"independent"}},"layer":[
{"mark":{"type":"area","interpolate":"monotone","clip":true},"encoding":{
"x":{"field":"r","type":"quantitative","scale":{"type":"log","domain":[1,310],"nice":false},"axis":{"orient":"bottom","values":[1,10,100],"labelExpr":"'10' + ['⁰','¹','²'][round(log(datum.value)/LN10)]","tickSize":4,"labelOverlap":false,"title":"r [au]","titleFontSize":20.5,"titlePadding":3,"titleX":134}},
"y":{"field":"hi","type":"quantitative","scale":{"type":"log","domain":[0.0001,100],"nice":false},"axis":{"orient":"left","values":[0.0001,0.001,0.01,0.1,1,10,100],"labels":false,"tickSize":4,"title":null}},
"y2":{"field":"lo"},
"color":{"field":"level","type":"nominal","scale":{"domain":["-7","-6","-5","-4","-3","-2","-1","0"],"range":["#300000","#800000","#e00000","#ff3c00","#ff8c00","#ffd700","#ffff40","#ffffc0"]},"legend":null},
"detail":{"field":"band"}}},
{"mark":{"type":"rule","opacity":0},"encoding":{
"x":{"field":"r","type":"quantitative","axis":{"orient":"bottom","values":[2,3,4,5,6,7,8,9,20,30,40,50,60,70,80,90,200,300],"labels":false,"tickSize":2,"title":null}},
"y":{"field":"hi","type":"quantitative","axis":{"orient":"left","values":[0.0002,0.0003,0.0004,0.0005,0.0006,0.0007,0.0008,0.0009,0.002,0.003,0.004,0.005,0.006,0.007,0.008,0.009,0.02,0.03,0.04,0.05,0.06,0.07,0.08,0.09,0.2,0.3,0.4,0.5,0.6,0.7,0.8,0.9,2,3,4,5,6,7,8,9,20,30,40,50,60,70,80,90],"labels":false,"tickSize":2,"title":null}}}},
{"data":{"name":"one"},"mark":{"type":"text","font":"Liberation Serif","fontWeight":"bold","fontSize":18,"color":"white","align":"left","baseline":"alphabetic"},"encoding":{"x":{"datum":1.33,"type":"quantitative","axis":null},"y":{"datum":30,"type":"quantitative","axis":null},"text":{"value":"Weak Traps"}}},
{"data":{"name":"one"},"mark":{"type":"text","font":"Liberation Serif","fontWeight":"bold","fontSize":21,"color":"black","align":"left","baseline":"alphabetic"},"encoding":{"x":{"datum":0.235,"type":"quantitative","axis":null},"y":{"datum":134,"type":"quantitative","axis":null},"text":{"value":"1Myr,"}}},
{"data":{"name":"one"},"mark":{"type":"text","font":"DejaVu Sans","fontStyle":"italic","fontSize":20,"color":"black","align":"left","baseline":"alphabetic"},"encoding":{"x":{"datum":0.842,"type":"quantitative","axis":null},"y":{"datum":134,"type":"quantitative","axis":null},"text":{"value":"α"}}},
{"data":{"name":"one"},"mark":{"type":"text","font":"DejaVu Sans","fontSize":20,"color":"black","align":"left","baseline":"alphabetic"},"encoding":{"x":{"datum":1.28,"type":"quantitative","axis":null},"y":{"datum":134,"type":"quantitative","axis":null},"text":{"value":"= 10"}}},
{"data":{"name":"one"},"mark":{"type":"text","font":"DejaVu Sans","fontSize":14,"color":"black","align":"left","baseline":"alphabetic"},"encoding":{"x":{"datum":3.55,"type":"quantitative","axis":null},"y":{"datum":214,"type":"quantitative","axis":null},"text":{"value":"−3"}}},
{"data":{"name":"one"},"mark":{"type":"text","font":"DejaVu Sans","fontSize":20,"color":"black","align":"left","baseline":"alphabetic"},"encoding":{"x":{"datum":5.5,"type":"quantitative","axis":null},"y":{"datum":134,"type":"quantitative","axis":null},"text":{"value":", 0.1"}}},
{"data":{"name":"one"},"mark":{"type":"text","font":"DejaVu Sans","fontStyle":"italic","fontSize":20,"color":"black","align":"left","baseline":"alphabetic"},"encoding":{"x":{"datum":14.1,"type":"quantitative","axis":null},"y":{"datum":134,"type":"quantitative","axis":null},"text":{"value":"M"}}},
{"data":{"name":"one"},"mark":{"type":"text","font":"DejaVu Sans","fontSize":14,"color":"black","align":"left","baseline":"alphabetic"},"encoding":{"x":{"datum":23.2,"type":"quantitative","axis":null},"y":{"datum":103,"type":"quantitative","axis":null},"text":{"value":"⊙"}}},
{"data":{"name":"one"},"mark":{"type":"text","font":"DejaVu Sans","fontSize":20,"color":"black","align":"left","baseline":"alphabetic"},"encoding":{"x":{"datum":29.4,"type":"quantitative","axis":null},"y":{"datum":134,"type":"quantitative","axis":null},"text":{"value":","}}},
{"data":{"name":"one"},"mark":{"type":"text","font":"DejaVu Sans","fontStyle":"italic","fontSize":20,"color":"black","align":"left","baseline":"alphabetic"},"encoding":{"x":{"datum":39.2,"type":"quantitative","axis":null},"y":{"datum":134,"type":"quantitative","axis":null},"text":{"value":"M"}}},
{"data":{"name":"one"},"mark":{"type":"text","font":"DejaVu Sans","fontSize":14,"color":"black","align":"left","baseline":"alphabetic"},"encoding":{"x":{"datum":57.4,"type":"quantitative","axis":null},"y":{"datum":103,"type":"quantitative","axis":null},"text":{"value":"disk"}}},
{"data":{"name":"one"},"mark":{"type":"text","font":"DejaVu Sans","fontSize":20,"color":"black","align":"left","baseline":"alphabetic"},"encoding":{"x":{"datum":124,"type":"quantitative","axis":null},"y":{"datum":134,"type":"quantitative","axis":null},"text":{"value":"= 0.05"}}},
{"data":{"name":"one"},"mark":{"type":"text","font":"DejaVu Sans","fontStyle":"italic","fontSize":20,"color":"black","align":"left","baseline":"alphabetic"},"encoding":{"x":{"datum":517,"type":"quantitative","axis":null},"y":{"datum":134,"type":"quantitative","axis":null},"text":{"value":"M"}}},
{"data":{"name":"one"},"mark":{"type":"text","font":"DejaVu Sans","fontSize":20,"color":"black","align":"left","baseline":"alphabetic"},"encoding":{"x":{"datum":837,"type":"quantitative","axis":null},"y":{"datum":134,"type":"quantitative","axis":null},"text":{"value":"⊙"}}}
]},
{"width":274,"height":228,"data":{"name":"p3"},"resolve":{"axis":{"x":"independent","y":"independent"}},"layer":[
{"mark":{"type":"area","interpolate":"monotone","clip":true},"encoding":{
"x":{"field":"r","type":"quantitative","scale":{"type":"log","domain":[1,310],"nice":false},"axis":{"orient":"bottom","values":[1,10,100],"labelExpr":"'10' + ['⁰','¹','²'][round(log(datum.value)/LN10)]","tickSize":4,"labelOverlap":false,"title":"r [au]","titleFontSize":20.5,"titlePadding":3,"titleX":134}},
"y":{"field":"hi","type":"quantitative","scale":{"type":"log","domain":[0.0001,100],"nice":false},"axis":{"orient":"left","values":[0.0001,0.001,0.01,0.1,1,10,100],"labels":false,"tickSize":4,"title":null}},
"y2":{"field":"lo"},
"color":{"field":"level","type":"nominal","scale":{"domain":["-7","-6","-5","-4","-3","-2","-1","0"],"range":["#300000","#800000","#e00000","#ff3c00","#ff8c00","#ffd700","#ffff40","#ffffc0"]},"legend":null},
"detail":{"field":"band"}}},
{"mark":{"type":"rule","opacity":0},"encoding":{
"x":{"field":"r","type":"quantitative","axis":{"orient":"bottom","values":[2,3,4,5,6,7,8,9,20,30,40,50,60,70,80,90,200,300],"labels":false,"tickSize":2,"title":null}},
"y":{"field":"hi","type":"quantitative","axis":{"orient":"left","values":[0.0002,0.0003,0.0004,0.0005,0.0006,0.0007,0.0008,0.0009,0.002,0.003,0.004,0.005,0.006,0.007,0.008,0.009,0.02,0.03,0.04,0.05,0.06,0.07,0.08,0.09,0.2,0.3,0.4,0.5,0.6,0.7,0.8,0.9,2,3,4,5,6,7,8,9,20,30,40,50,60,70,80,90],"labels":false,"tickSize":2,"title":null}}}},
{"data":{"name":"one"},"mark":{"type":"text","font":"Liberation Serif","fontWeight":"bold","fontSize":18,"color":"white","align":"left","baseline":"alphabetic"},"encoding":{"x":{"datum":1.32,"type":"quantitative","axis":null},"y":{"datum":29.3,"type":"quantitative","axis":null},"text":{"value":"Strong Traps"}}}
]}
],"resolve":{"scale":{"color":"shared"}}},
{"width":16,"height":228,"data":{"name":"cb"},"resolve":{"axis":{"y":"independent"}},"layer":[
{"mark":{"type":"rect"},"encoding":{
"y":{"field":"from","type":"quantitative","scale":{"domain":[-7,1],"nice":false,"zero":false},"axis":{"orient":"right","values":[-7,-6,-5,-4,-3,-2,-1,0,1],"labelOverlap":false,"labelExpr":"replace(datum.label,'-','−')","tickSize":3.5,"title":null}},
"y2":{"field":"to"},
"color":{"field":"level","type":"nominal","legend":null,"scale":{"domain":["-7","-6","-5","-4","-3","-2","-1","0"],"range":["#300000","#800000","#e00000","#ff3c00","#ff8c00","#ffd700","#ffff40","#ffffc0"]}}}},
{"data":{"name":"one"},"mark":{"type":"text","font":"DejaVu Sans","fontSize":18,"color":"black","align":"left","baseline":"alphabetic","angle":270},"encoding":{"x":{"datum":3.9,"type":"quantitative","scale":{"domain":[0,1]},"axis":null},"y":{"datum":-5.89,"type":"quantitative","axis":null},"text":{"value":"log"}}},
{"data":{"name":"one"},"mark":{"type":"text","font":"DejaVu Sans","fontSize":13,"color":"black","align":"left","baseline":"alphabetic","angle":270},"encoding":{"x":{"datum":4.15,"type":"quantitative","axis":null},"y":{"datum":-4.9,"type":"quantitative","axis":null},"text":{"value":"10"}}},
{"data":{"name":"one"},"mark":{"type":"text","font":"DejaVu Sans","fontSize":18,"color":"black","align":"left","baseline":"alphabetic","angle":270},"encoding":{"x":{"datum":3.9,"type":"quantitative","axis":null},"y":{"datum":-4.34,"type":"quantitative","axis":null},"text":{"value":"("}}},
{"data":{"name":"one"},"mark":{"type":"text","font":"DejaVu Sans","fontStyle":"italic","fontSize":18,"color":"black","align":"left","baseline":"alphabetic","angle":270},"encoding":{"x":{"datum":3.9,"type":"quantitative","axis":null},"y":{"datum":-4.09,"type":"quantitative","axis":null},"text":{"value":"σ"}}},
{"data":{"name":"one"},"mark":{"type":"text","font":"DejaVu Sans","fontSize":13,"color":"black","align":"left","baseline":"alphabetic","angle":270},"encoding":{"x":{"datum":4.15,"type":"quantitative","axis":null},"y":{"datum":-3.71,"type":"quantitative","axis":null},"text":{"value":"dust"}}},
{"data":{"name":"one"},"mark":{"type":"text","font":"DejaVu Sans","fontSize":18,"color":"black","align":"left","baseline":"alphabetic","angle":270},"encoding":{"x":{"datum":3.9,"type":"quantitative","axis":null},"y":{"datum":-2.72,"type":"quantitative","axis":null},"text":{"value":")[g/cm²]"}}}
]}
]}
